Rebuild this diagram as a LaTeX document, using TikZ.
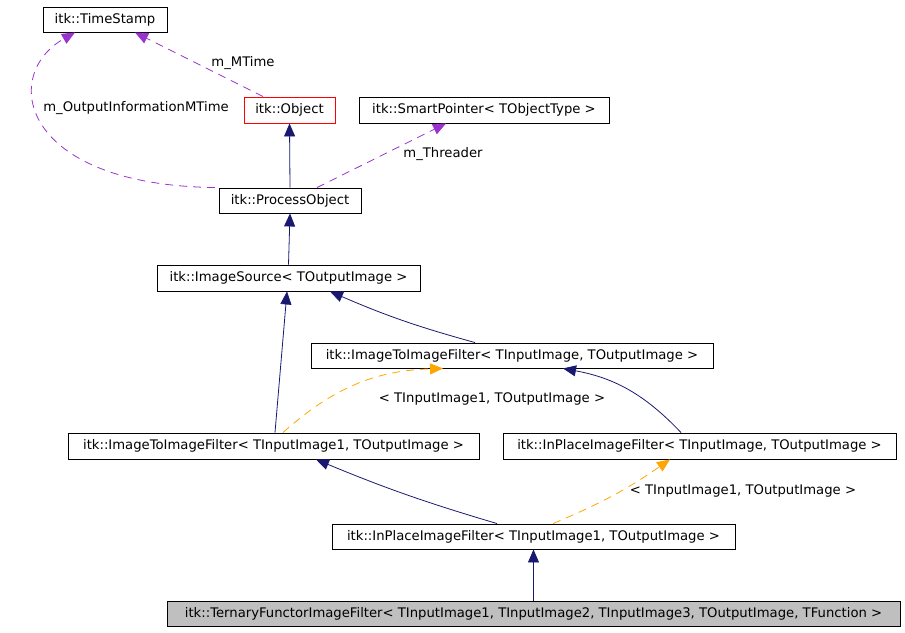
\documentclass[tikz,border=0pt]{standalone}
\usepackage{fontspec}
\setmainfont{DejaVu Sans}
\usepackage{tikz}
\usetikzlibrary{arrows.meta,calc}

\definecolor{inherit}{HTML}{191970}
\definecolor{member}{HTML}{9A32CD}
\definecolor{templ}{HTML}{FFA500}

\begin{document}
\begin{tikzpicture}[
  x=1pt,
  y=-1pt,
  font=\fontsize{13.2}{15}\selectfont,
  cls/.style={draw=black, line width=0.9pt, fill=white, inner sep=0pt, minimum height=25pt, align=center},
  focus/.style={cls, fill=black!25},
  undoc/.style={cls, draw=red},
  isa/.style={draw=inherit, line width=0.8pt, -{Triangle[length=13pt,width=11pt]}},
  usage/.style={draw=member, line width=0.8pt, dash pattern=on 8pt off 6pt, -{Triangle[length=13pt,width=11pt]}},
  instance/.style={draw=templ, line width=0.8pt, dash pattern=on 8pt off 6pt, -{Triangle[length=13pt,width=11pt]}},
  edgelabel/.style={inner sep=0pt, fill=none}
]
\useasboundingbox (0,0) rectangle (905,632);

% classes
\node[cls, minimum width=124pt] (ts) at (105,19.5) {itk::TimeStamp};
\node[undoc, minimum width=91pt, minimum height=26pt] (obj) at (289.5,110) {itk::Object};
\node[cls, minimum width=250pt, minimum height=26pt] (sp) at (484,110) {itk::SmartPointer< TObjectType >};
\node[cls, minimum width=142pt] (po) at (290,200.5) {itk::ProcessObject};
\node[cls, minimum width=263pt, minimum height=26pt] (isrc) at (288.5,278) {itk::ImageSource< TOutputImage >};
\node[cls, minimum width=402pt] (i2i) at (512,355.5) {itk::ImageToImageFilter< TInputImage, TOutputImage >};
\node[cls, minimum width=411pt, minimum height=26pt] (i2i1) at (273.5,446) {itk::ImageToImageFilter< TInputImage1, TOutputImage >};
\node[cls, minimum width=393pt, minimum height=26pt] (ipf) at (699.5,446) {itk::InPlaceImageFilter< TInputImage, TOutputImage >};
\node[cls, minimum width=403pt] (ipf1) at (533.5,536.5) {itk::InPlaceImageFilter< TInputImage1, TOutputImage >};
\node[focus, minimum width=733pt] (tern) at (533.5,613.5) {itk::TernaryFunctorImageFilter< TInputImage1, TInputImage2, TInputImage3, TOutputImage, TFunction >};

% inheritance
\draw[isa] (po.north) -- (obj.south);
\draw[isa] (isrc.north) -- (po.south);
\draw[isa] ([xshift=1.5pt]i2i1.north) -- ([xshift=-1.5pt]isrc.south);
\draw[isa] ([xshift=-37pt]i2i.north) to[bend left=4] ([xshift=41.5pt]isrc.south);
\draw[isa] ([xshift=-18.5pt]ipf.north) to[bend right=18] ([xshift=51pt]i2i.south);
\draw[isa] ([xshift=-36.5pt]ipf1.north) to[bend left=3] ([xshift=42.5pt]i2i1.south);
\draw[isa] (tern.north) -- (ipf1.south);

% template instances
\draw[instance] ([xshift=9.5pt]i2i1.north) to[bend left=20] ([xshift=-69pt]i2i.south);
\draw[instance] ([xshift=19.5pt]ipf1.north) to[bend right=6] ([xshift=-29.5pt]ipf.south);
\node[edgelabel] (lbl-i2i) at (492,399) {< TInputImage1, TOutputImage >};
\node[edgelabel] (lbl-ipf) at (743,491) {< TInputImage1, TOutputImage >};

% members
\draw[usage] ([xshift=-26.5pt]obj.north) -- ([xshift=30pt]ts.south);
\draw[usage] ([xshift=-75pt]po.north) .. controls (20,185) and (0,75) .. ([xshift=-30pt]ts.south);
\draw[usage] ([xshift=27pt]po.north) -- ([xshift=-38pt]sp.south);
\node[edgelabel] (lbl-mtime) at (243,63) {m\_MTime};
\node[edgelabel] (lbl-oimt) at (136,108) {m\_OutputInformationMTime};
\node[edgelabel] (lbl-thr) at (443,154) {m\_Threader};
\end{tikzpicture}
\end{document}
